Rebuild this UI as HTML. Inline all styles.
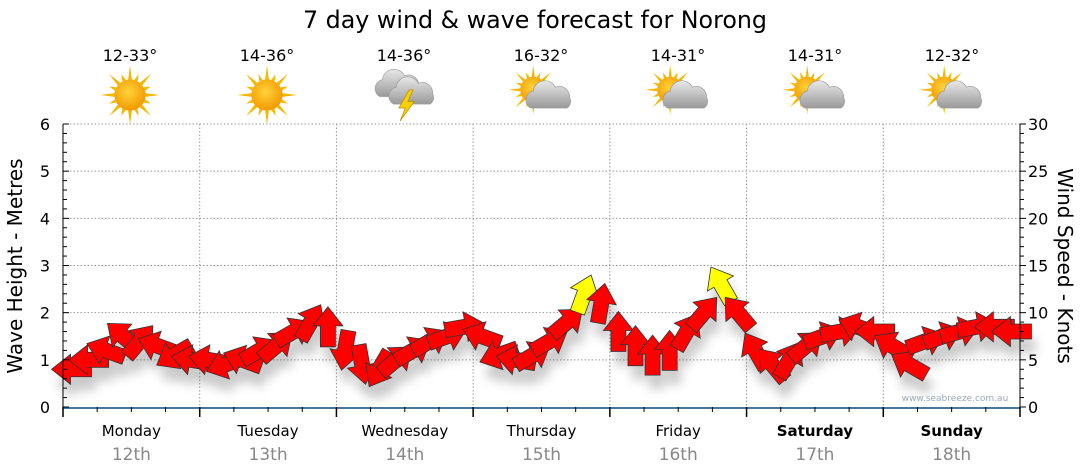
<!DOCTYPE html>
<html><head><meta charset="utf-8"><style>
html,body{margin:0;padding:0;background:#fff;}
svg{display:block;font-family:"DejaVu Sans","Liberation Sans",sans-serif;}
</style></head><body>
<svg id="chart" width="1080" height="475" viewBox="0 0 1080 475">
<defs>
<filter id="sh" x="-50%" y="-50%" width="200%" height="200%"><feGaussianBlur stdDeviation="5"/></filter>
<radialGradient id="sunG" cx="45%" cy="40%" r="60%"><stop offset="0" stop-color="#ffd23a"/><stop offset="1" stop-color="#f29a00"/></radialGradient>
<linearGradient id="cloudG" x1="0" y1="0" x2="0" y2="1"><stop offset="0" stop-color="#e8e8e8"/><stop offset="1" stop-color="#9a9a9a"/></linearGradient>
</defs>
<text x="535" y="28" text-anchor="middle" font-size="24" textLength="464" lengthAdjust="spacingAndGlyphs">7 day wind &amp; wave forecast for Norong</text>
<g id="grid"></g>
<g id="shadows" filter="url(#sh)" opacity="0.3"></g>
<g id="arrows"></g>
<g id="axes"></g>
<g id="topg"></g>
<text x="955" y="401" text-anchor="middle" font-size="9" fill="#9ab">www.seabreeze.com.au</text>
<text transform="translate(22,266) rotate(-90)" text-anchor="middle" font-size="20">Wave Height - Metres</text>
<text transform="translate(1058,266) rotate(90)" text-anchor="middle" font-size="20">Wind Speed - Knots</text>
</svg>
<script>
const days = ["Monday","Tuesday","Wednesday","Thursday","Friday","Saturday","Sunday"];
const dates = ["12th","13th","14th","15th","16th","17th","18th"];
const temps = ["12-33°","14-36°","14-36°","16-32°","14-31°","14-31°","12-32°"];
const icons = ["sun","sun","storm","partly","partly","partly","partly"];
const leftTicks = [0,1,2,3,4,5,6];
const rightTicks = [0,5,10,15,20,25,30];
const speeds = [4,5,6,7.5,7,6.5,5.5,5,
 5,4.5,5,6,6.5,8,9,8.5,
 6,4.5,4,5,6,7,7.5,8.5,
 7.5,5.5,5,5.5,7,9,12,11,
 8,6.5,5.5,6,8,10,13,10,
 6,4.5,5,6.5,7.5,8,8.5,8,
 6.5,4.5,7,7.5,8,8.5,8.5,8];
const dirs = [180,180,200,-140,-50,200,150,190,
 190,160,200,-30,-40,-30,-60,-90,
 100,80,120,-40,-30,-30,-20,-10,
 200,160,190,-30,-30,-40,-70,-80,
 -90,-90,-90,-90,-60,-50,-120,-130,
 -120,-130,-60,-40,-20,-10,200,180,
 -150,-150,-20,-20,-15,-10,180,180];
const X0=63,X1=1020,Y0=407,Y1=124,NS="http://www.w3.org/2000/svg";
const dayW=(X1-X0)/7;
const xDay=d=>X0+d*dayW;
const yWave=v=>Y0-(v/6)*(Y0-Y1);
const yKn=v=>Y0-(v/30)*(Y0-Y1);
function mk(tag,attrs,parent){const e=document.createElementNS(NS,tag);for(const k in attrs)e.setAttribute(k,attrs[k]);parent.appendChild(e);return e;}
const grid=document.getElementById('grid'),axes=document.getElementById('axes'),topG=document.getElementById('topg');
leftTicks.forEach(t=>{if(t>0){const l=mk('line',{x1:X0,x2:X1,y1:yWave(t),y2:yWave(t),stroke:'#999','stroke-dasharray':'1.5,2'},grid);

}
const tx=mk('text',{x:50,y:yWave(t)+6,'text-anchor':'end','font-size':16},axes);tx.textContent=t;

});
for(let i=0;i<=30;i++){const v=i/5;mk('line',{x1:X0,x2:X0+(i%5?4:6),y1:yWave(v),y2:yWave(v),stroke:'#000'},axes);}
rightTicks.forEach(t=>{const tx=mk('text',{x:1028,y:yKn(t)+6,'font-size':16},axes);tx.textContent=t;

});
for(let i=0;i<=30;i++){mk('line',{x1:X1,x2:X1+(i%5?4:6),y1:yKn(i),y2:yKn(i),stroke:'#000'},axes);}
mk('line',{x1:X0,x2:X0,y1:Y1,y2:Y0,stroke:'#000'},axes);
mk('line',{x1:X1,x2:X1,y1:Y1,y2:Y0,stroke:'#000'},axes);
mk('line',{x1:X0,x2:X1,y1:Y0+1,y2:Y0+1,stroke:'#0c4a7a','stroke-width':1.5},axes);
for(let d=0;d<=7;d++){if(d>0&&d<7){const l=mk('line',{x1:xDay(d),x2:xDay(d),y1:Y1,y2:Y0,stroke:'#999','stroke-dasharray':'1.5,2'},grid);

}
mk('line',{x1:xDay(d),x2:xDay(d),y1:Y0,y2:Y0+10,stroke:'#000','stroke-width':1.5},axes);
if(d<7)for(let q=1;q<4;q++)mk('line',{x1:xDay(d)+q*dayW/4,x2:xDay(d)+q*dayW/4,y1:Y0,y2:Y0+5,stroke:'#000'},axes);}
days.forEach((n,d)=>{const cx=xDay(d)+dayW/2;const bold=d>=5;
const t=mk('text',{x:cx,y:436,'text-anchor':'middle','font-size':15,'font-weight':bold?'bold':'normal'},axes);t.textContent=n;


const t2=mk('text',{x:cx,y:460,'text-anchor':'middle','font-size':17,fill:'#888'},axes);t2.textContent=dates[d];


const tcx=130+d*137;
const t3=mk('text',{x:tcx,y:61,'text-anchor':'middle','font-size':16},topG);t3.textContent=temps[d];


const g=mk('g',{transform:`translate(${tcx},95) scale(1.3)`},topG);


const ic=icons[d];
const sun=(ox,oy,r)=>{let p='';for(let k=0;k<16;k++){const a=k*Math.PI/8,Lr=k%2?r*1.45:r*1.9;p+=`M${ox+Math.cos(a-0.12)*r} ${oy+Math.sin(a-0.12)*r}L${ox+Math.cos(a)*Lr} ${oy+Math.sin(a)*Lr}L${ox+Math.cos(a+0.12)*r} ${oy+Math.sin(a+0.12)*r}Z`;}
mk('path',{d:p,fill:'#f5b800'},g);mk('circle',{cx:ox,cy:oy,r:r,fill:'url(#sunG)'},g);};
const cloud=(ox,oy,s)=>{mk('path',{d:`M${ox-14*s} ${oy+8*s}a7 7 0 0 1 2-13a9 9 0 0 1 17-3a8 8 0 0 1 11 8a6 6 0 0 1-2 8Z`,fill:'url(#cloudG)',stroke:'#999','stroke-width':0.5},g);};
if(ic==='sun')sun(0,0,12);
else if(ic==='partly'){sun(-6,-4,10);cloud(6,2,1);}
else{cloud(-6,-6,0.9);cloud(6,-1,1);mk('path',{d:'M4 -4L-4 10L1 10L-3 20L8 5L3 5L7 -4Z',fill:'#f5d000',stroke:'#b80',"stroke-width":0.5},g);}
});
const sh=document.getElementById('shadows'),ar=document.getElementById('arrows');
const AL=40,AW=30,SW=15,HL=19;
speeds.forEach((v,i)=>{const d=Math.floor(i/8),k=i%8;const cx=xDay(d)+(k+0.5)*dayW/8,cy=yKn(v);
const p=`M${AL/2} 0L${AL/2-HL} ${-AW/2}L${AL/2-HL} ${-SW/2}L${-AL/2} ${-SW/2}L${-AL/2} ${SW/2}L${AL/2-HL} ${SW/2}L${AL/2-HL} ${AW/2}Z`;
const s=mk('path',{d:p,transform:`translate(${cx+4},${cy+14}) rotate(${dirs[i]})`,fill:'#555'},sh);


const a=mk('path',{d:p,transform:`translate(${cx},${cy}) rotate(${dirs[i]})`,fill:v>=12?'#ffff00':'#ff0000',stroke:'#333','stroke-width':0.8},ar);


});
</script>
</body></html>
